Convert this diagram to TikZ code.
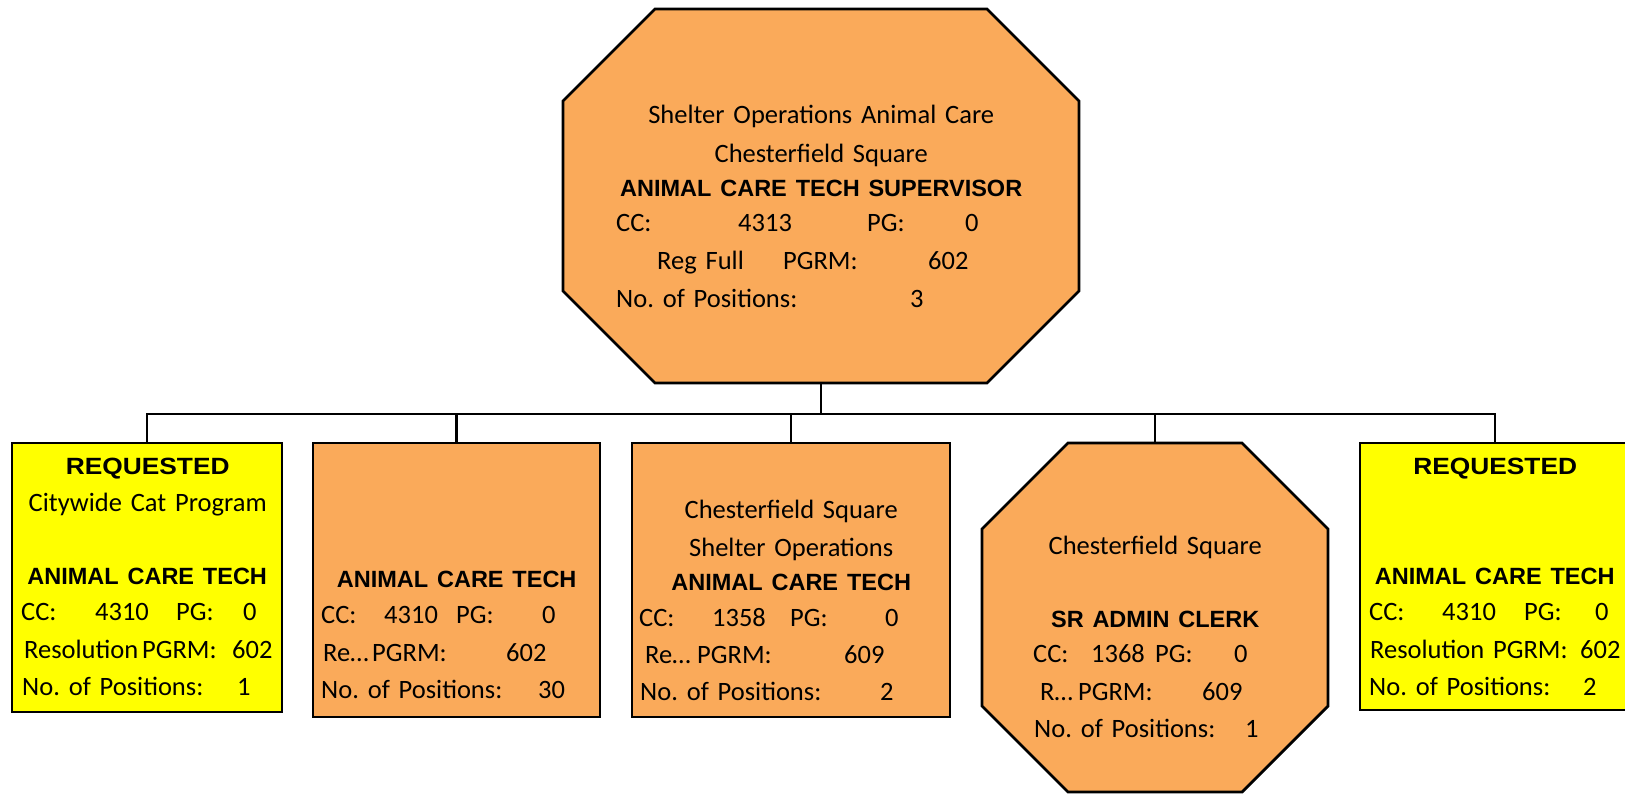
\documentclass[tikz,border=0pt]{standalone}
\usepackage{fontspec}
\usepackage{graphicx}
\setmainfont{Carlito}
\newfontfamily\hdfont{Liberation Sans}
\frenchspacing
\definecolor{careorange}{RGB}{250,170,90}
\definecolor{reqyellow}{RGB}{255,255,0}
\newcommand\fld[2]{\makebox[0pt][l]{\hspace*{#1pt}#2}}
\newcommand\ctr[2]{\makebox[0pt][l]{\hspace*{#1pt}\makebox[0pt][c]{#2}}}
\newcommand\hd[1]{{\hdfont\bfseries\fontsize{23.5}{37}\selectfont #1}}
\newcommand\req{\scalebox{1.12}[1]{\hd{REQUESTED}}}
\newcommand\octagon[2]{\filldraw[octline] ([xshift=#2]#1.north west) -- ([xshift=-#2]#1.north east)
  -- ([yshift=-#2]#1.north east) -- ([yshift=#2]#1.south east) -- ([xshift=-#2]#1.south east)
  -- ([xshift=#2]#1.south west) -- ([yshift=#2]#1.south west) -- ([yshift=-#2]#1.north west) -- cycle;}
\tikzset{
  post/.style={draw=black, line width=2.8pt, inner sep=0pt},
  orgbox/.style={post, rectangle, fill=careorange},
  reqbox/.style={post, rectangle, fill=reqyellow},
  octbox/.style={rectangle, inner sep=0pt, outer sep=0pt},
  octline/.style={draw=black, line width=2.8pt, fill=careorange},
  txt/.style={anchor=base west, inner sep=0pt, text width=10pt, align=left,
    font=\fontsize{26.5}{37}\selectfont},
  link/.style={line width=2.6pt}
}
\begin{document}
\begin{tikzpicture}[x=1pt, y=-1pt]
\useasboundingbox (0,0) rectangle (1625,795);
\node[octbox, minimum width=516pt, minimum height=374pt] (sup) at (821,196) {};
\octagon{sup}{92pt}
\node[reqbox, minimum width=270pt, minimum height=269pt] (catreq) at (147,577.5) {};
\node[orgbox, minimum width=287pt, minimum height=274pt] (act) at (456.5,580) {};
\node[orgbox, minimum width=318pt, minimum height=274pt] (actcs) at (791,580) {};
\node[octbox, minimum width=346pt, minimum height=349pt] (clerk) at (1155,617.5) {};
\octagon{clerk}{86pt}
\node[reqbox, minimum width=270pt, minimum height=267pt] (actreq) at (1495,576.5) {};

\coordinate (bus) at (821,414);
\foreach \c in {catreq,act,actcs,clerk,actreq}
  \draw[link] (sup.south) |- (bus -| \c.north) -- (\c.north);

\node[txt] (sup-txt) at (563,123) {\ctr{258}{Shelter Operations Animal Care}\\[2pt]
  \ctr{258}{Chesterfield Square}\\[-3pt]
  \ctr{258}{\hd{ANIMAL CARE TECH SUPERVISOR}}\\[-2pt]
  \fld{53}{CC:}\fld{175}{4313}\fld{304}{PG:}\fld{402}{0}\\[1pt]
  \fld{94}{Reg Full}\fld{220}{PGRM:}\fld{365}{602}\\[1pt]
  \fld{53}{No. of Positions:}\fld{347}{3}};
\node[txt] (catreq-txt) at (12,474) {\ctr{135.5}{\req}\\
  \ctr{135.5}{Citywide Cat Program}\\[36pt]
  \ctr{135}{\hd{ANIMAL CARE TECH}}\\[-1pt]
  \fld{9}{CC:}\fld{83}{4310}\fld{164}{PG:}\fld{231}{0}\\[1pt]
  \fld{12}{Resolution}\fld{130}{PGRM:}\fld{220}{602}\\
  \fld{10}{No. of Positions:}\fld{225}{1}};
\node[txt] (act-txt) at (313,587) {\ctr{143.5}{\hd{ANIMAL CARE TECH}}\\[-1pt]
  \fld{8}{CC:}\fld{71}{4310}\fld{143}{PG:}\fld{229}{0}\\[1pt]
  \fld{10}{Re…}\fld{59}{PGRM:}\fld{193}{602}\\
  \fld{8}{No. of Positions:}\fld{225}{30}};
\node[txt] (actcs-txt) at (632,518) {\ctr{159}{Chesterfield Square}\\[1pt]
  \ctr{159}{Shelter Operations}\\[-3pt]
  \ctr{159}{\hd{ANIMAL CARE TECH}}\\[-1pt]
  \fld{7}{CC:}\fld{80}{1358}\fld{158}{PG:}\fld{253}{0}\\
  \fld{13}{Re…}\fld{65}{PGRM:}\fld{212}{609}\\
  \fld{8}{No. of Positions:}\fld{248}{2}};
\node[txt] (clerk-txt) at (982,554) {\ctr{173}{Chesterfield Square}\\[36pt]
  \ctr{173}{\hd{SR ADMIN CLERK}}\\[-2pt]
  \fld{51}{CC:}\fld{109}{1368}\fld{173}{PG:}\fld{252}{0}\\[1pt]
  \fld{58}{R…}\fld{96}{PGRM:}\fld{220}{609}\\
  \fld{52}{No. of Positions:}\fld{263}{1}};
\node[txt] (actreq-txt) at (1360,474) {\ctr{135}{\req}\\[73pt]
  \ctr{134.5}{\hd{ANIMAL CARE TECH}}\\[-1pt]
  \fld{9}{CC:}\fld{82}{4310}\fld{164}{PG:}\fld{235}{0}\\[1pt]
  \fld{10}{Resolution}\fld{133}{PGRM:}\fld{220}{602}\\
  \fld{9}{No. of Positions:}\fld{223}{2}};
\end{tikzpicture}
\end{document}
